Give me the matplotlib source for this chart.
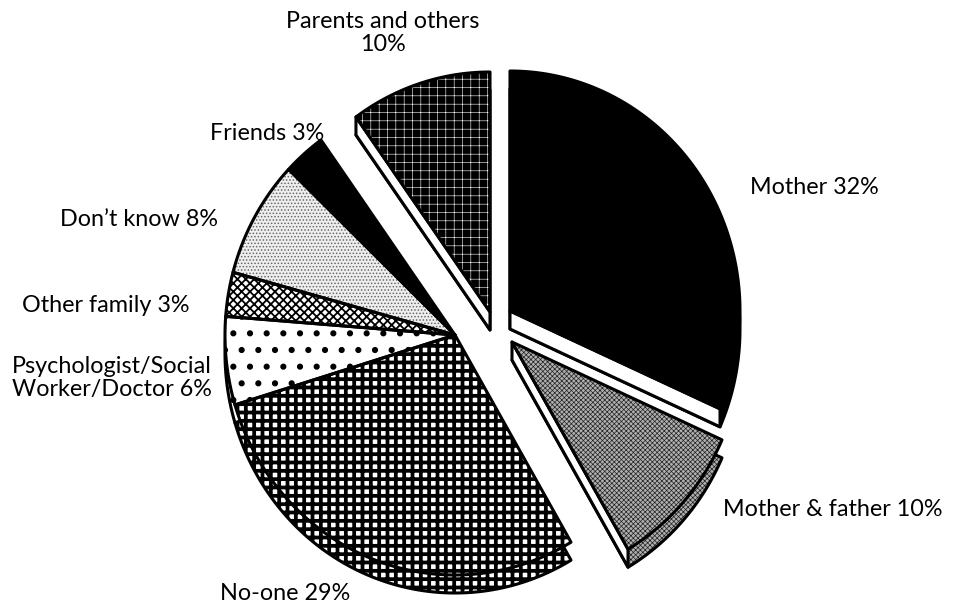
import matplotlib
matplotlib.use('Agg')
import matplotlib.pyplot as plt
import numpy as np
from matplotlib.patches import Polygon

# slices, clockwise from 12 o'clock
labels = ['Mother 32%', 'Mother & father 10%', 'No-one 29%',
          'Psychologist/Social\nWorker/Doctor 6%', 'Other family 3%',
          'Don\u2019t know 8%', 'Friends 3%', 'Parents and others\n10%']
values = [32, 10, 29, 6, 3, 8, 3, 10]

# fill style of each slice
faces = ['black', '#b0b0b0', 'white', 'white', 'white', '#efefef', 'black', 'black']
hatches = [None, 'xxxxxxx', '++', '.', 'xxxx', '.....', None, '++']
hatch_cols = ['black', '#222222', 'black', 'black', 'black', '#666666', 'black', 'white']
hatch_lw = [1.0, 0.5, 2.7, 2.0, 1.3, 0.7, 1.0, 0.4]

# pixel centres (y down); three slices are pulled out of the pie
centres = [(510, 311), (512, 342), (455, 335), (455, 335), (455, 335),
           (455, 335), (455, 335), (490, 312)]
label_xy = [(750, 188), (723, 510), (285, 593), (12, 378), (22, 305),
            (60, 220), (210, 133), (383, 33)]
label_ha = ['left', 'left', 'center', 'left', 'left', 'left', 'left', 'center']

RX, RY = 230, 240
DEPTH = 18

plt.rcParams['font.family'] = ['Lato', 'DejaVu Sans']


def wedge_xy(c, t1, t2, dy=0):
    t = np.radians(np.linspace(t1, t2, 120))
    xs = np.r_[c[0], c[0] + RX * np.cos(t), c[0]]
    ys = np.r_[c[1], c[1] - RY * np.sin(t), c[1]] + dy
    return np.column_stack([xs, ys])


def add_face(ax, xy, i, z):
    p = Polygon(xy, closed=True, facecolor=faces[i], edgecolor=hatch_cols[i],
                hatch=hatches[i], linewidth=0, zorder=z)
    if hasattr(p, 'set_hatch_linewidth'):
        p.set_hatch_linewidth(hatch_lw[i])
    ax.add_patch(p)
    ax.add_patch(Polygon(xy, closed=True, fill=False, edgecolor='black',
                         linewidth=2.2, joinstyle='round', zorder=z + 0.1))


fig = plt.figure(figsize=(9.56, 6.06), dpi=100)
ax = fig.add_axes([0, 0, 1, 1])
ax.set_xlim(0, 956)
ax.set_ylim(606, 0)
ax.axis('off')

total = float(sum(values))
cum = np.r_[0, np.cumsum(values)]
t_start = 90 - cum[:-1] / total * 360
t_end = 90 - cum[1:] / total * 360
n = len(values)

for i in range(n):
    c = centres[i]
    # side of the slab: shifted copy of the slice
    add_face(ax, wedge_xy(c, t_end[i], t_start[i], DEPTH), i, 1)
    # cut faces that look toward the viewer
    for t, nb, sgn in [(t_end[i], (i + 1) % n, -1), (t_start[i], (i - 1) % n, 1)]:
        if centres[nb] == centres[i]:
            continue
        if np.sin(np.radians(t + sgn * 90)) >= -0.05:
            continue
        p1 = (c[0] + RX * np.cos(np.radians(t)), c[1] - RY * np.sin(np.radians(t)))
        quad = [c, p1, (p1[0], p1[1] + DEPTH), (c[0], c[1] + DEPTH)]
        ax.add_patch(Polygon(quad, closed=True, facecolor='white',
                             edgecolor='black', linewidth=2.2,
                             joinstyle='round', zorder=2))
    add_face(ax, wedge_xy(c, t_end[i], t_start[i]), i, 3)

for i in range(n):
    ax.text(label_xy[i][0], label_xy[i][1], labels[i], ha=label_ha[i],
            va='center', fontsize=16.8, color='black',
            multialignment=label_ha[i], linespacing=1.1)

fig.savefig('out.png', dpi=100)
